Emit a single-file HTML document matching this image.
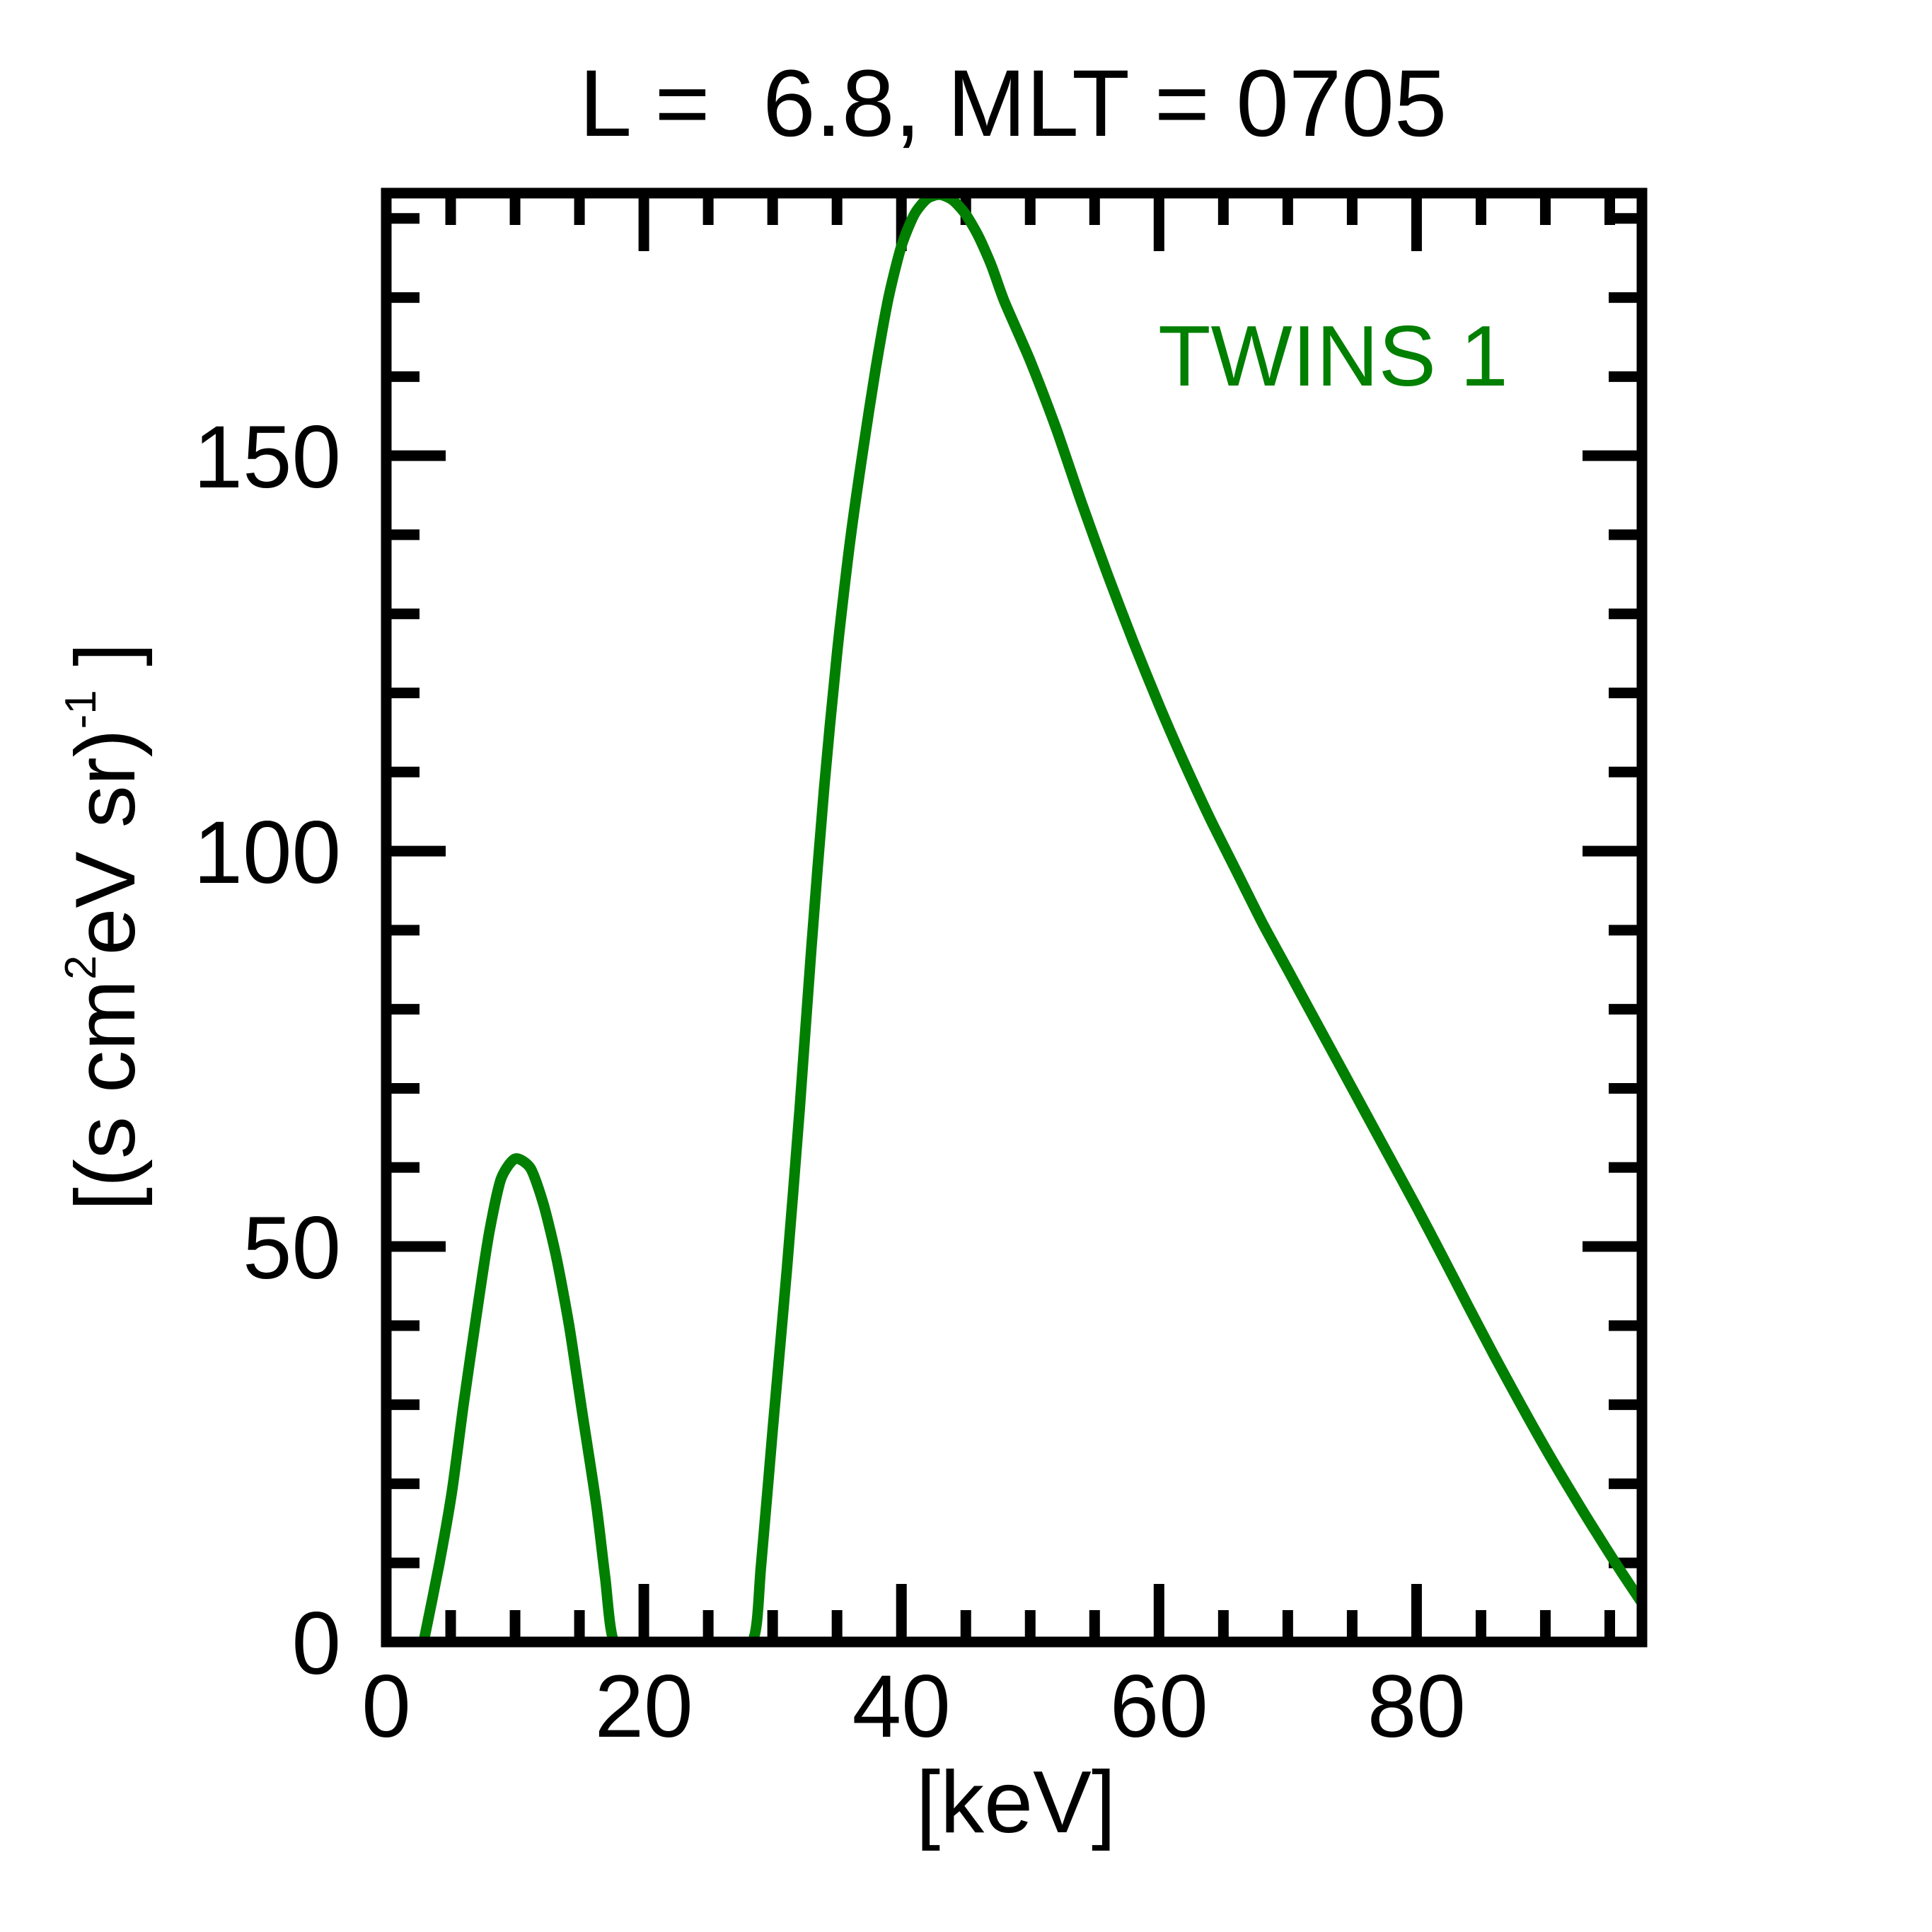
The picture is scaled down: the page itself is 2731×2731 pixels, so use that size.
<!DOCTYPE html>
<html><head><meta charset="utf-8">
<style>
html,body{margin:0;padding:0;background:#fff;}
svg{display:block;}
text{font-family:"Liberation Sans",sans-serif;}
</style></head>
<body>
<svg id="chart" width="2731" height="2731" viewBox="0 0 2731 2731" xmlns="http://www.w3.org/2000/svg">
<rect width="2731" height="2731" fill="#fff"/>
<text x="1432" y="192" font-size="134" text-anchor="middle" xml:space="preserve" style="white-space:pre">L =  6.8, MLT = 0705</text>
<defs><clipPath id="plotclip"><rect x="546" y="273" width="1775" height="2048"/></clipPath></defs>
<g id="ticks"></g>
<g id="labels"></g>
<path id="series" fill="none" stroke="#007f00" stroke-width="15" stroke-linejoin="round" clip-path="url(#plotclip)"/>
<rect x="546" y="273" width="1775" height="2048" fill="none" stroke="#000" stroke-width="15"/>
<text x="1637" y="545" font-size="122" fill="#007f00">TWINS 1</text>
<text x="1436" y="2590" font-size="124" text-anchor="middle">[keV]</text>
<text transform="translate(190,1310) rotate(-90)" font-size="120" text-anchor="middle">[(s cm<tspan font-size="62" dy="-55">2</tspan><tspan dy="55">eV sr)</tspan><tspan font-size="62" dy="-55">-1</tspan><tspan dy="55"> ]</tspan></text>
</svg>
<script>
const energies = [2.9,4.1,5.1,6.0,7.1,8.0,8.9,10.0,11.2,12.2,13.2,14.2,15.2,16.3,17.0,17.7,20,25,28.4,29.1,30.0,31.1,32.1,33.0,34.0,35.0,36.0,37,38,39,40,41,42,43,44,45,46,47,48,50,52,54,56,58,60,62,64,66,68,70,72,74,76,78,80,82,84,86,88,90,92,94,96,97.6];
const fluxValues = [0,9.7,19,30,42.4,51.8,58.5,61.1,59.9,55.4,48.7,40,29.2,17.5,8.1,0,0,0,0,9.7,26.8,47,67.4,87.6,108,125,139,150.5,161,170,176.5,180.5,182.5,183,182.3,180.5,177.7,174,169.5,162,153.5,144,135,126.5,118.5,111,104,97.5,91,85,79,73,67,61,55,48.8,42.5,36.3,30.3,24.5,19,13.7,8.6,4.7];
const xTickLabels = [0,20,40,60,80];
const yTickLabels = [0,50,100,150];

const X0=546, X1=2321, Y0=2321, Y1=273, XMAX=97.5, YMAX=183.2;
function xs(v){return X0+(X1-X0)*v/XMAX;}
function ys(v){return Y0-(Y0-Y1)*v/YMAX;}
const NS="http://www.w3.org/2000/svg";
const pts=energies.map((e,i)=>[xs(e),ys(fluxValues[i])]);
let d="M"+pts[0][0].toFixed(1)+","+pts[0][1].toFixed(1);
for(let i=0;i<pts.length-1;i++){
  const p0=pts[Math.max(0,i-1)],p1=pts[i],p2=pts[i+1],p3=pts[Math.min(pts.length-1,i+2)];
  const t=0.12;
  const c1=[p1[0]+(p2[0]-p0[0])*t,Math.min(Y0,p1[1]+(p2[1]-p0[1])*t)];
  const c2=[p2[0]-(p3[0]-p1[0])*t,Math.min(Y0,p2[1]-(p3[1]-p1[1])*t)];
  d+="C"+c1[0].toFixed(1)+","+c1[1].toFixed(1)+" "+c2[0].toFixed(1)+","+c2[1].toFixed(1)+" "+p2[0].toFixed(1)+","+p2[1].toFixed(1);
}
document.getElementById('series').setAttribute('d',d);

const tg=document.getElementById('ticks');
function line(x1,y1,x2,y2,name){
  const l=document.createElementNS(NS,'line');
  l.setAttribute('x1',x1);l.setAttribute('y1',y1);l.setAttribute('x2',x2);l.setAttribute('y2',y2);
  l.setAttribute('stroke','#000');l.setAttribute('stroke-width','15');
  
  
  tg.appendChild(l);
}
for(let v=5;v<XMAX;v+=5){
  const major=v%20===0, len=major?82:45, x=xs(v);
  line(x,Y0,x,Y0-len,'x-tick-bottom');
  line(x,Y1,x,Y1+len,'x-tick-top');
}
for(let v=10;v<YMAX;v+=10){
  const major=v%50===0, len=major?84:47, y=ys(v);
  line(X0,y,X0+len,y,'y-tick-left');
  line(X1,y,X1-len,y,'y-tick-right');
}
const lg=document.getElementById('labels');
xTickLabels.forEach(v=>{
  const t=document.createElementNS(NS,'text');
  t.setAttribute('x',xs(v));t.setAttribute('y',2455);
  t.setAttribute('font-size','125');t.setAttribute('text-anchor','middle');
  
  
  t.textContent=v;lg.appendChild(t);
});
yTickLabels.forEach(v=>{
  const t=document.createElementNS(NS,'text');
  t.setAttribute('x',482);t.setAttribute('y',ys(v)+45);
  t.setAttribute('font-size','125');t.setAttribute('text-anchor','end');
  
  
  t.textContent=v;lg.appendChild(t);
});
</script>
</body></html>
